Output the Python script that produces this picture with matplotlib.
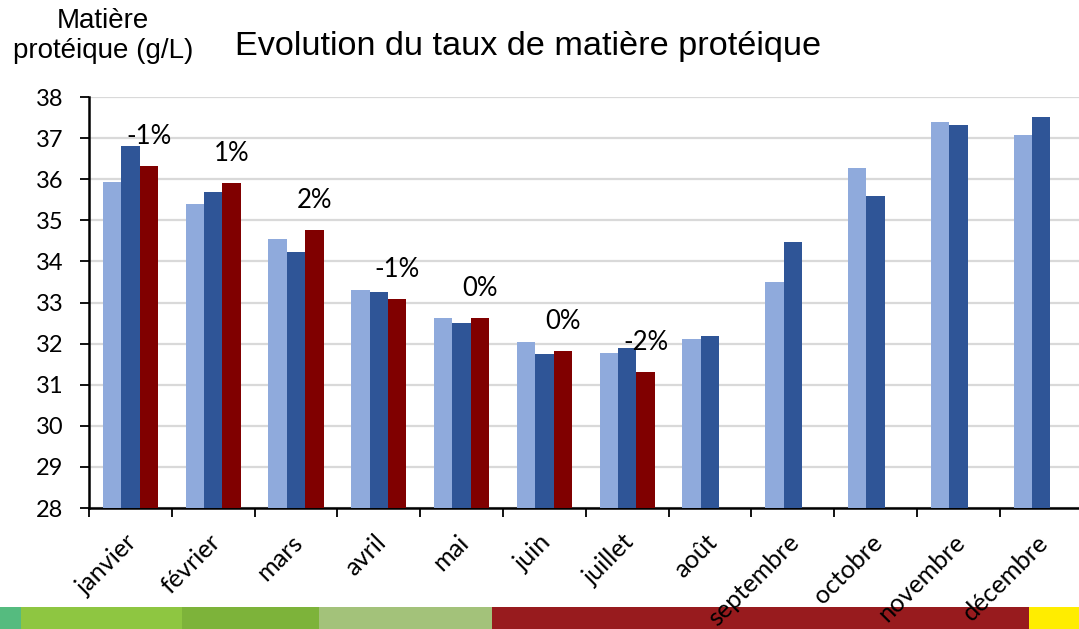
import matplotlib
matplotlib.use("Agg")
import matplotlib.pyplot as plt
from matplotlib.transforms import ScaledTranslation

mois = ["janvier", "février", "mars", "avril", "mai", "juin", "juillet",
        "août", "septembre", "octobre", "novembre", "décembre"]
serie1 = [35.93, 35.40, 34.55, 33.30, 32.62, 32.04, 31.77, 32.11, 33.50, 36.27, 37.39, 37.08]
serie2 = [36.81, 35.69, 34.23, 33.26, 32.50, 31.75, 31.89, 32.18, 34.47, 35.59, 37.32, 37.51]
serie3 = [36.32, 35.91, 34.76, 33.09, 32.62, 31.82, 31.31]
evolution = ["-1%", "1%", "2%", "-1%", "0%", "0%", "-2%"]

# bandeau décoratif en bas de l'image
bandeau_bords = [0, 21, 182, 319, 492, 1029, 1079]
bandeau_couleurs = ["#55BB7F", "#8EC641", "#7DB33A", "#A3C27A", "#981B1E", "#FFED00"]

c_clair = "#8FAADC"
c_fonce = "#2F5597"
c_rouge = "#800000"

fig = plt.figure(figsize=(10.79, 6.29), dpi=100)

# bandeau
axb = fig.add_axes([0, 0, 1, 22 / 629], zorder=-1)
segs = [(bandeau_bords[i], bandeau_bords[i + 1] - bandeau_bords[i]) for i in range(len(bandeau_couleurs))]
axb.broken_barh(segs, (0, 1), facecolors=bandeau_couleurs)
axb.set_xlim(0, 1079)
axb.set_ylim(0, 1)
axb.axis("off")

ax = fig.add_axes([89 / 1079, 1 - 508 / 629, 993.6 / 1079, 411 / 629])

w = 0.223
centres = [i + 0.5 for i in range(len(mois))]
ax.bar([c - w for c in centres], serie1, width=w, color=c_clair, zorder=3)
ax.bar(centres, serie2, width=w, color=c_fonce, zorder=3)
ax.bar([c + w for c in centres[:len(serie3)]], serie3, width=w, color=c_rouge, zorder=3)

for c, v, txt in zip(centres, serie3, evolution):
    ax.annotate(txt, (c + w, v), xytext=(0, 21), textcoords="offset points",
                ha="center", va="center", fontsize=18.5, family="Lato", zorder=4)

ax.set_ylim(28, 38)
ax.set_xlim(0, 12)
ax.set_yticks(range(28, 39))
ax.yaxis.grid(True, color="#D9D9D9", linewidth=1.6, zorder=0)
ax.set_axisbelow(True)

ax.set_xticks(range(13))
ax.set_xticklabels([])
ax.set_xticks(centres, minor=True)
ax.set_xticklabels(mois, minor=True, rotation=45, ha="right", va="center",
                   rotation_mode="anchor", fontsize=18.2, family="Lato")
ax.tick_params(axis="x", which="major", length=6.3, width=1.3, direction="out")
ax.tick_params(axis="x", which="minor", length=0, pad=22)
ax.tick_params(axis="y", length=6.5, width=1.3, pad=12, labelsize=17)
for lab in ax.get_yticklabels():
    lab.set_family("Lato")
decal = ScaledTranslation(3 / 100, 0, fig.dpi_scale_trans)
for lab in ax.get_xticklabels(minor=True):
    lab.set_transform(lab.get_transform() + decal)

for s in ["top", "right"]:
    ax.spines[s].set_visible(False)
for s in ["left", "bottom"]:
    ax.spines[s].set_linewidth(1.8)
    ax.spines[s].set_color("black")

fig.text(528 / 1079, 1 - 47 / 629, "Evolution du taux de matière protéique",
         ha="center", va="center", fontsize=24.7, family="Liberation Sans")
fig.text(103 / 1079, 1 - 36 / 629, "Matière\nprotéique (g/L)", ha="center", va="center",
         multialignment="center", fontsize=20, family="Liberation Sans", linespacing=1.15)

fig.savefig("out.png", dpi=100)
